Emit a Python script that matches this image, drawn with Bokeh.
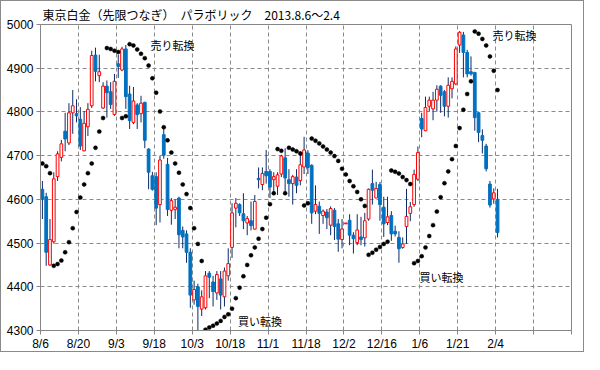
import numpy as np
from bokeh.plotting import figure
from bokeh.models import ColumnDataSource, Range1d, FixedTicker, Label, Title
from bokeh.embed import file_html
from bokeh.resources import INLINE

# ---- data ----
date_labels = ["8/6", "8/20", "9/3", "9/18", "10/3", "10/18", "11/1", "11/18",
               "12/2", "12/16", "1/6", "1/21", "2/4"]

opens = [4623, 4606, 4450, 4503, 4652, 4696, 4756, 4729, 4798, 4796,
         4783, 4711, 4766, 4814, 4930, 4883, 4809, 4859, 4846, 4794,
         4910, 4896, 4944, 4841, 4776, 4816, 4796, 4822, 4715, 4654,
         4652, 4588, 4748, 4680, 4575, 4577, 4603, 4529, 4521, 4479,
         4370, 4400, 4349, 4352, 4431, 4411, 4386, 4418, 4377, 4425,
         4490, 4580, 4588, 4567, 4546, 4551, 4532, 4648, 4634, 4664,
         4664, 4645, 4630, 4658, 4695, 4645, 4636, 4651, 4643, 4674,
         4706, 4678, 4573, 4584, 4563, 4571, 4541, 4575, 4544, 4508,
         4544, 4552, 4518, 4501, 4514, 4512, 4555, 4636, 4603, 4634,
         4582, 4547, 4563, 4527, 4513, 4490, 4538, 4568, 4588, 4646,
         4785, 4757, 4813, 4807, 4827, 4859, 4846, 4813, 4853, 4864,
         4953, 4976, 4936, 4892, 4890, 4798, 4746, 4722, 4635, 4601,
         4600]
highs = [4642, 4615, 4555, 4662, 4710, 4736, 4798, 4820, 4850, 4829,
         4811, 4802, 4820, 4940, 4947, 4931, 4868, 4872, 4868, 4887,
         4931, 4949, 4953, 4860, 4857, 4820, 4837, 4823, 4717, 4663,
         4662, 4699, 4765, 4695, 4603, 4600, 4606, 4538, 4529, 4488,
         4414, 4407, 4392, 4436, 4436, 4425, 4436, 4436, 4444, 4488,
         4591, 4603, 4591, 4614, 4562, 4595, 4610, 4673, 4673, 4713,
         4669, 4662, 4662, 4702, 4717, 4669, 4656, 4669, 4710, 4743,
         4713, 4680, 4632, 4595, 4577, 4578, 4584, 4580, 4555, 4555,
         4546, 4566, 4525, 4566, 4560, 4569, 4625, 4668, 4640, 4640,
         4606, 4606, 4573, 4540, 4527, 4513, 4624, 4594, 4668, 4721,
         4798, 4835, 4835, 4846, 4861, 4861, 4850, 4879, 4879, 4950,
         4985, 4983, 4942, 4927, 4892, 4800, 4760, 4727, 4642, 4625,
         4624]
lows = [4555, 4448, 4448, 4499, 4642, 4687, 4710, 4724, 4750, 4776,
        4713, 4710, 4745, 4809, 4870, 4868, 4807, 4787, 4807, 4791,
        4878, 4893, 4807, 4761, 4772, 4761, 4776, 4717, 4623, 4620,
        4541, 4547, 4693, 4562, 4542, 4555, 4488, 4488, 4455, 4352,
        4359, 4300, 4333, 4348, 4374, 4355, 4370, 4348, 4355, 4414,
        4466, 4536, 4562, 4532, 4518, 4529, 4531, 4625, 4621, 4636,
        4603, 4614, 4610, 4651, 4614, 4606, 4588, 4614, 4632, 4658,
        4658, 4544, 4566, 4521, 4544, 4532, 4518, 4507, 4480, 4488,
        4544, 4495, 4476, 4495, 4495, 4492, 4551, 4588, 4603, 4551,
        4514, 4541, 4505, 4515, 4455, 4487, 4498, 4550, 4583, 4642,
        4742, 4756, 4801, 4781, 4801, 4798, 4790, 4787, 4831, 4861,
        4935, 4879, 4879, 4883, 4757, 4731, 4705, 4664, 4581, 4590,
        4513]
closes = [4601, 4479, 4508, 4647, 4704, 4727, 4738, 4798, 4814, 4791,
          4722, 4774, 4806, 4929, 4893, 4892, 4859, 4844, 4817, 4870,
          4904, 4944, 4835, 4780, 4825, 4794, 4820, 4735, 4662, 4623,
          4580, 4690, 4701, 4577, 4597, 4582, 4519, 4514, 4479, 4381,
          4394, 4355, 4377, 4425, 4422, 4389, 4428, 4381, 4436, 4453,
          4569, 4591, 4569, 4551, 4556, 4540, 4595, 4645, 4659, 4654,
          4628, 4652, 4656, 4699, 4649, 4636, 4652, 4632, 4679, 4713,
          4673, 4569, 4588, 4568, 4573, 4558, 4579, 4538, 4509, 4532,
          4546, 4518, 4510, 4530, 4508, 4551, 4623, 4621, 4625, 4588,
          4544, 4560, 4521, 4521, 4487, 4498, 4561, 4583, 4657, 4707,
          4761, 4810, 4827, 4827, 4852, 4838, 4813, 4861, 4870, 4944,
          4982, 4936, 4887, 4887, 4787, 4753, 4735, 4670, 4587, 4615,
          4524]
sar = [4682, 4676, 4660, 4448, 4452, 4460, 4479, 4502, 4534, 4571,
       4604, 4634, 4660, 4682, 4718, 4755, 4786, 4946, 4944, 4940,
       4937, 4786, 4790, 4955, 4952, 4943, 4933, 4923, 4906, 4877,
       4844, 4801, 4765, 4735, 4707, 4682, 4661, 4634, 4612, 4580,
       4534, 4498, 4459, 4302, 4307, 4311, 4316, 4322, 4331, 4337,
       4350, 4374, 4398, 4424, 4450, 4472, 4490, 4510, 4532, 4558,
       4589, 4614, 4715, 4711, 4614, 4718, 4714, 4710, 4705, 4586,
       4591, 4739, 4734, 4728, 4721, 4714, 4707, 4699, 4688, 4670,
       4657, 4642, 4630, 4617, 4600, 4585, 4473, 4478, 4485, 4491,
       4498, 4503, 4666, 4663, 4659, 4651, 4644, 4635, 4454, 4459,
       4470, 4490, 4516, 4541, 4572, 4605, 4637, 4664, 4692, 4722,
       4763, 4805, 4841, 4870, 4984, 4979, 4967, 4952, 4927, 4894,
       4850]

n = len(opens)
idx = np.arange(n)
o = np.array(opens, dtype=float)
c = np.array(closes, dtype=float)
h = np.array(highs, dtype=float)
l = np.array(lows, dtype=float)
up = c >= o

src_all = ColumnDataSource(dict(x=idx, h=h, l=l))
src_up = ColumnDataSource(dict(x=idx[up], top=np.maximum(o, c)[up], bot=np.minimum(o, c)[up]))
src_dn = ColumnDataSource(dict(x=idx[~up], top=np.maximum(o, c)[~up], bot=np.minimum(o, c)[~up]))
src_sar = ColumnDataSource(dict(x=idx, y=sar))

JP = "Noto Sans CJK JP"
NUM = "Liberation Sans"

p = figure(width=584, height=352, output_backend="svg", toolbar_location=None,
           x_range=Range1d(-0.5, 139.5), y_range=Range1d(4300, 5000),
           min_border_left=39, min_border_right=14, min_border_top=19,
           min_border_bottom=0)
p.styles = {"border": "1px solid #8a8a8a"}

p.title = Title(text="東京白金（先限つなぎ）　パラボリック　2013.8.6～2.4",
                align="left", offset=2, standoff=4,
                text_font=JP, text_font_size="12px", text_font_style="normal",
                text_color="black")

# axes
tick_pos = [k * 10 - 0.5 for k in range(15)]
p.xaxis.ticker = FixedTicker(ticks=tick_pos)
overrides = {}
for k, t in enumerate(tick_pos):
    overrides[t] = date_labels[k] if k < len(date_labels) else ""
p.xaxis.major_label_overrides = overrides
p.yaxis.ticker = FixedTicker(ticks=list(range(4300, 5001, 100)))

for ax in (p.xaxis, p.yaxis):
    ax.axis_line_color = "#868686"
    ax.major_tick_line_color = "#868686"
    ax.major_tick_in = 0
    ax.major_tick_out = 4
    ax.minor_tick_line_color = None
    ax.major_label_text_font = NUM
    ax.major_label_text_font_size = "12px"
    ax.major_label_text_color = "black"
    ax.major_label_standoff = 3
    ax.axis_label = None
    ax.axis_label_standoff = 0
p.xaxis.major_label_standoff = 2

p.xgrid.grid_line_color = "#8a8a8a"
p.xgrid.grid_line_dash = "4 3"
p.ygrid.grid_line_color = "#8a8a8a"
p.ygrid.grid_line_dash = "4 3"
p.outline_line_color = "#868686"
p.background_fill_color = "white"
p.border_fill_color = "white"

# candles
p.segment(x0="x", y0="l", x1="x", y1="h", source=src_all, line_color="#0d2a66", line_width=1)
p.vbar(x="x", width=0.72, top="top", bottom="bot", source=src_dn,
       fill_color="#0070C0", line_color="#0070C0", line_width=1)
p.vbar(x="x", width=0.72, top="top", bottom="bot", source=src_up,
       fill_color="white", line_color="#FF0000", line_width=1)

# parabolic SAR
p.scatter(x="x", y="y", source=src_sar, size=4, fill_color="black", line_color="black",
          line_width=0.5)

# annotations
for (ax_, ay_, t) in [(28.5, 4954, "売り転換"), (118.7, 4975, "売り転換"),
                       (51.6, 4322, "買い転換"), (99.4, 4422, "買い転換")]:
    p.add_layout(Label(x=ax_, y=ay_, text=t, text_font=JP, text_font_size="11px",
                       text_baseline="middle", text_align="left", text_color="black"))

open("out.html", "w").write(file_html(p, INLINE))
